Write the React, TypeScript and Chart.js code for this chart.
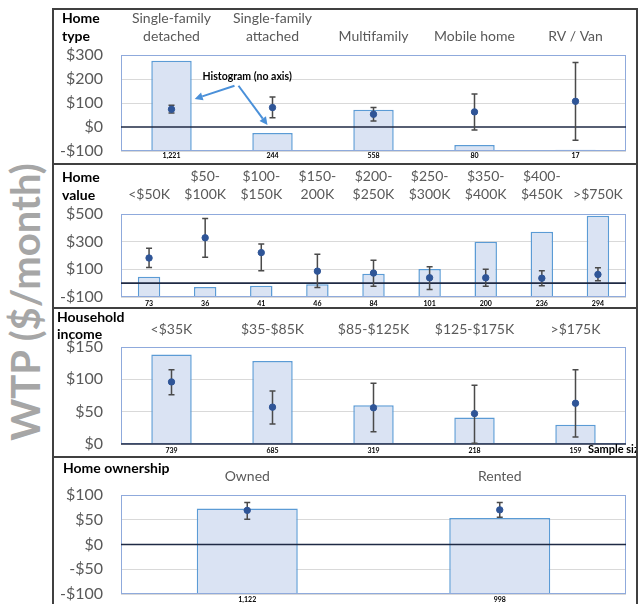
import React, { useEffect, useRef } from 'react';
import { Chart, registerables } from 'chart.js';

Chart.register(...registerables);

const FONT = 'Lato, "Open Sans", sans-serif';

// ---------- Panel 1: Home type ----------
const homeTypeLabels = [['Single-family', 'detached'], ['Single-family', 'attached'], 'Multifamily', 'Mobile home', 'RV / Van'];
const homeTypeN = [1221, 244, 558, 80, 17];
const homeTypeMean = [74, 81, 53, 63, 107];
const homeTypeLow = [58, 39, 25, -13, -55];
const homeTypeHigh = [91, 125, 81, 138, 269];

// ---------- Panel 2: Home value ----------
const homeValueLabels = ['<$50K', ['$50-', '$100K'], ['$100-', '$150K'], ['$150-', '200K'], ['$200-', '$250K'], ['$250-', '$300K'], ['$350-', '$400K'], ['$400-', '$450K'], '>$750K'];
const homeValueN = [73, 36, 41, 46, 84, 101, 200, 236, 294];
const homeValueMean = [182, 328, 221, 87, 73, 39, 39, 36, 63];
const homeValueLow = [114, 187, 90, -32, -22, -46, -22, -19, 17];
const homeValueHigh = [252, 468, 284, 209, 165, 119, 100, 90, 112];

// ---------- Panel 3: Household income ----------
const incomeLabels = ['<$35K', '$35-$85K', '$85-$125K', '$125-$175K', '>$175K'];
const incomeN = [739, 685, 319, 218, 159];
const incomeMean = [96, 57, 56, 47, 63];
const incomeLow = [76, 31, 19, 1, 11];
const incomeHigh = [115, 82, 94, 91, 115];

// ---------- Panel 4: Home ownership ----------
const ownLabels = ['Owned', 'Rented'];
const ownN = [1122, 998];
const ownMean = [69, 70];
const ownLow = [51, 55];
const ownHigh = [85, 85];

// y-axis ranges (ticks)
const homeTypeAxis = { min: -100, max: 300, step: 100, hist: 1300 };
const homeValueAxis = { min: -100, max: 500, step: 200, hist: 300 };
const incomeAxis = { min: 0, max: 150, step: 50, hist: 800 };
const ownAxis = { min: -100, max: 100, step: 50, hist: 1300 };

const fmt = (v: number) => (v < 0 ? `-$${-v}` : `$${v}`);

function drawArrow(ctx: CanvasRenderingContext2D, x1: number, y1: number, x2: number, y2: number) {
  const ang = Math.atan2(y2 - y1, x2 - x1);
  const hl = 8, hw = 4;
  const bx = x2 - hl * Math.cos(ang), by = y2 - hl * Math.sin(ang);
  ctx.beginPath();
  ctx.moveTo(x1, y1);
  ctx.lineTo(bx, by);
  ctx.stroke();
  ctx.beginPath();
  ctx.moveTo(x2, y2);
  ctx.lineTo(bx + hw * Math.sin(ang), by - hw * Math.cos(ang));
  ctx.lineTo(bx - hw * Math.sin(ang), by + hw * Math.cos(ang));
  ctx.closePath();
  ctx.fill();
}

const decorPlugin = {
  id: 'panelDecor',
  beforeDatasetDraw(chart: any, args: any, opts: any) {
    if (args.index !== 0) return;
    const { ctx, chartArea: a, scales } = chart;
    const y = scales.y, x = scales.x;
    ctx.save();
    // plot area box
    ctx.strokeStyle = '#8faadc';
    ctx.lineWidth = 1;
    ctx.strokeRect(a.left + 0.5, a.top + 0.5, a.right - a.left - 1, a.bottom - a.top - 1);
    // zero line
    const z = y.getPixelForValue(0);
    ctx.strokeStyle = '#1f2a44';
    ctx.lineWidth = 1.6;
    ctx.beginPath();
    ctx.moveTo(a.left, z);
    ctx.lineTo(a.right, z);
    ctx.stroke();
    // error bars
    const ds = chart.data.datasets[0];
    ctx.strokeStyle = '#4a4a4a';
    ctx.lineWidth = 1.5;
    ds.errLow.forEach((lo: number, i: number) => {
      const px = x.getPixelForValue(i);
      const p1 = y.getPixelForValue(lo);
      const p2 = y.getPixelForValue(ds.errHigh[i]);
      ctx.beginPath();
      ctx.moveTo(px, p1); ctx.lineTo(px, p2);
      ctx.moveTo(px - 3, p1); ctx.lineTo(px + 3, p1);
      ctx.moveTo(px - 3, p2); ctx.lineTo(px + 3, p2);
      ctx.stroke();
    });
    if (opts && opts.arrows) {
      const meta = chart.getDatasetMeta(1);
      const b0: any = meta.data[0];
      const x0 = x.getPixelForValue(0), x1 = x.getPixelForValue(1);
      ctx.fillStyle = '#000';
      ctx.font = `bold 10.5px ${FONT}`;
      ctx.textBaseline = 'middle';
      ctx.textAlign = 'left';
      ctx.fillText('Histogram (no axis)', x0 + 31, y.getPixelForValue(212));
      ctx.strokeStyle = '#4a90d9';
      ctx.fillStyle = '#4a90d9';
      ctx.lineWidth = 2;
      drawArrow(ctx, x0 + 63, y.getPixelForValue(172), b0.x + b0.width / 2 + 3, y.getPixelForValue(117));
      drawArrow(ctx, x0 + 67, y.getPixelForValue(172), x1 - 5, y.getPixelForValue(8));
    }
    ctx.restore();
  },
};

type PanelCfg = {
  labels: any[]; n: number[]; mean: number[]; low: number[]; high: number[];
  axis: { min: number; max: number; step: number; hist: number };
  top: number; h: number; topH: number; botH: number; topPad: number; botPad: number; arrows?: boolean;
};

const W = 582;

function buildConfig(c: PanelCfg): any {
  return {
    type: 'bar',
    data: {
      labels: c.labels,
      datasets: [
        {
          type: 'line', data: c.mean, yAxisID: 'y', xAxisID: 'x', showLine: false,
          pointRadius: 3.2, pointHoverRadius: 3.2, pointBackgroundColor: '#2f5597', pointBorderColor: '#2f5597',
          order: 1, errLow: c.low, errHigh: c.high,
        },
        {
          type: 'bar', data: c.n, yAxisID: 'y2', xAxisID: 'x',
          backgroundColor: '#dae3f3', borderColor: '#5b9bd5', borderWidth: 1.5,
          barPercentage: 0.4, categoryPercentage: 1, order: 2,
        },
      ],
    },
    options: {
      responsive: false, maintainAspectRatio: false, animation: false,
      layout: { padding: { left: 0, right: 10, top: 0, bottom: 0 } },
      plugins: { legend: { display: false }, tooltip: { enabled: false }, panelDecor: { arrows: !!c.arrows } },
      scales: {
        x: {
          type: 'category', position: 'top', offset: true,
          grid: { display: false, drawTicks: false, offset: true }, border: { display: false },
          ticks: { font: { family: FONT, size: 14, lineHeight: 1.25 }, color: '#595959', padding: c.topPad, maxRotation: 0, autoSkip: false },
          afterFit: (s: any) => { s.height = c.topH; s.paddingLeft = 0; s.paddingRight = 0; },
        },
        x2: {
          type: 'category', position: 'bottom', offset: true, labels: c.n.map((v) => v.toLocaleString('en-US')),
          grid: { display: false, drawTicks: false, offset: true }, border: { display: false },
          ticks: { font: { family: FONT, size: 7, weight: 'bold' }, color: '#000', padding: c.botPad, maxRotation: 0, autoSkip: false },
          afterFit: (s: any) => { s.height = c.botH; s.paddingLeft = 0; s.paddingRight = 0; },
        },
        y: {
          min: c.axis.min, max: c.axis.max,
          ticks: { stepSize: c.axis.step, callback: (v: any) => fmt(Number(v)), font: { family: FONT, size: 16 }, color: '#595959', padding: 18 },
          grid: { color: (ctx: any) => (ctx.tick && ctx.tick.value === 0 ? 'rgba(0,0,0,0)' : '#d9d9d9'), drawTicks: false },
          border: { display: false },
          afterFit: (s: any) => { s.width = 67; s.paddingTop = 0; s.paddingBottom = 0; },
        },
        y2: { display: false, min: 0, max: c.axis.hist },
      },
    },
    plugins: [decorPlugin],
  };
}

function Panel({ cfg }: { cfg: PanelCfg }) {
  const ref = useRef<HTMLCanvasElement>(null);
  useEffect(() => {
    const chart = new Chart(ref.current as HTMLCanvasElement, buildConfig(cfg));
    return () => chart.destroy();
  }, []);
  return (
    <canvas ref={ref} width={W} height={cfg.h}
      style={{ position: 'absolute', left: 54, top: cfg.top, width: W, height: cfg.h }} />
  );
}

const panels: PanelCfg[] = [
  { labels: homeTypeLabels, n: homeTypeN, mean: homeTypeMean, low: homeTypeLow, high: homeTypeHigh, axis: homeTypeAxis,
    top: 10, h: 153, topH: 45, botH: 12, topPad: 10, botPad: 1, arrows: true },
  { labels: homeValueLabels, n: homeValueN, mean: homeValueMean, low: homeValueLow, high: homeValueHigh, axis: homeValueAxis,
    top: 165, h: 142, topH: 49, botH: 10, topPad: 11, botPad: 3 },
  { labels: incomeLabels, n: incomeN, mean: incomeMean, low: incomeLow, high: incomeHigh, axis: incomeAxis,
    top: 309, h: 147, topH: 38, botH: 12, topPad: 9, botPad: 3 },
  { labels: ownLabels, n: ownN, mean: ownMean, low: ownLow, high: ownHigh, axis: ownAxis,
    top: 458, h: 146, topH: 37, botH: 10, topPad: 10, botPad: 2 },
];

const headerStyle: React.CSSProperties = {
  position: 'absolute', fontFamily: FONT, fontWeight: 'bold', fontSize: 14, color: '#000', whiteSpace: 'nowrap', zIndex: 2,
};
const lineStyle = (top: number): React.CSSProperties => ({
  position: 'absolute', left: 52, top, width: 586, height: 2, background: '#404040', zIndex: 3,
});

export default function App() {
  return (
    <div style={{ position: 'absolute', left: 0, top: 0, width: 638, height: 604, overflow: 'hidden', background: '#fff' }}>
      {panels.map((p, i) => <Panel key={i} cfg={p} />)}
      {/* frame */}
      <div style={{ position: 'absolute', left: 52, top: 8, width: 2, height: 600, background: '#404040', zIndex: 3 }} />
      <div style={{ position: 'absolute', left: 636, top: 8, width: 2, height: 600, background: '#404040', zIndex: 3 }} />
      <div style={lineStyle(8)} />
      <div style={lineStyle(163)} />
      <div style={lineStyle(307)} />
      <div style={lineStyle(456)} />
      {/* panel headers */}
      <div style={{ ...headerStyle, left: 62, top: 9, lineHeight: '18px' }}>Home<br />type</div>
      <div style={{ ...headerStyle, left: 62, top: 168, lineHeight: '17.5px' }}>Home<br />value</div>
      <div style={{ ...headerStyle, left: 57, top: 308, lineHeight: '17px' }}>Household<br />income</div>
      <div style={{ ...headerStyle, left: 63, top: 459, lineHeight: '18px' }}>Home ownership</div>
      {/* sample size note, clipped by frame */}
      <div style={{ position: 'absolute', left: 588, top: 442, width: 48, height: 14, overflow: 'hidden', zIndex: 2 }}>
        <div style={{ fontFamily: FONT, fontWeight: 'bold', fontSize: 11, lineHeight: '14px', whiteSpace: 'nowrap', color: '#000' }}>Sample size</div>
      </div>
      {/* big y title */}
      <div style={{
        position: 'absolute', left: 25, top: 302, transform: 'translate(-50%, -50%) rotate(-90deg)',
        fontFamily: FONT, fontWeight: 'bold', fontSize: 40, color: '#a6a6a6', whiteSpace: 'nowrap', lineHeight: 1,
      }}>WTP ($/month)</div>
    </div>
  );
}
